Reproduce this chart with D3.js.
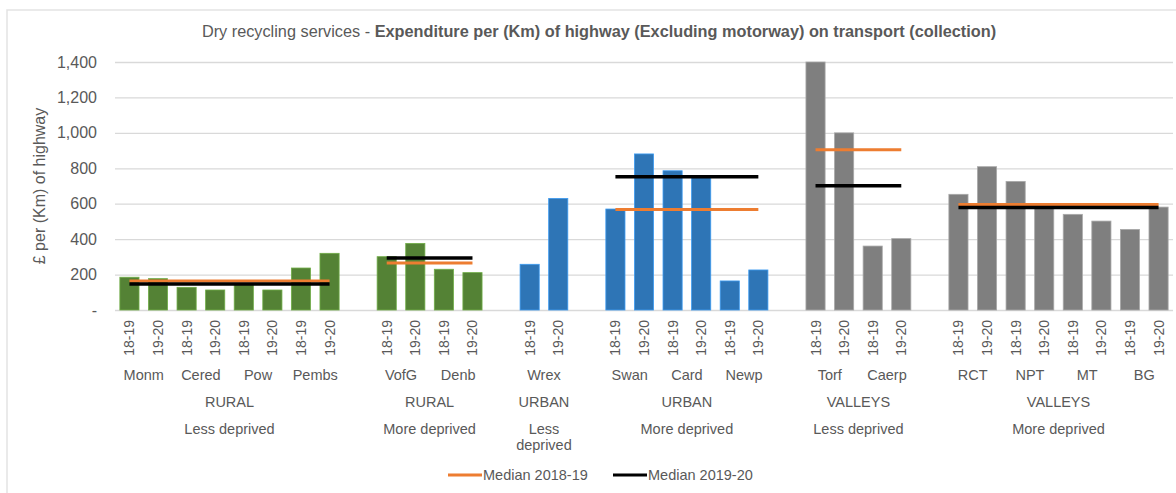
<!DOCTYPE html>
<html>
<head>
<meta charset="utf-8">
<script src="https://cdn.jsdelivr.net/npm/d3@7"></script>
<style>
    body { margin: 0; background: #fff; }
    svg { display: block; font-family: "Liberation Sans", Arial, sans-serif; }
</style>
</head>
<body>
<script>
'use strict';

const years = ['18-19', '19-20']
const authorities = ['Monm', 'Cered', 'Pow', 'Pembs', 'VofG', 'Denb', 'Wrex', 'Swan', 'Card', 'Newp', 'Torf', 'Caerp', 'RCT', 'NPT', 'MT', 'BG']
const values1819 = [185, 128, 143, 237, 301, 230, 258, 570, 786, 164, 1450, 361, 653, 726, 540, 455]
const values1920 = [177, 113, 113, 320, 376, 211, 630, 881, 752, 226, 1000, 403, 809, 580, 502, 581]

const groupRegions = ['RURAL', 'RURAL', 'URBAN', 'URBAN', 'VALLEYS', 'VALLEYS']
const groupDeprivation = ['Less deprived', 'More deprived', 'Less deprived', 'More deprived', 'Less deprived', 'More deprived']
const groupSizes = [4, 2, 1, 3, 2, 4]
const median1819 = [164, 265, null, 568, 905, 596]
const median1920 = [147, 294, null, 752, 701, 579]

const yTicks = [0, 200, 400, 600, 800, 1000, 1200, 1400]

const regionColour = {RURAL: '#548235', URBAN: '#2e75b6', VALLEYS: '#7f7f7f'}
const textColour = '#595959'

class BarChart {
    constructor (width=1176, height=493) {
        this.width = width
        this.height = height
        this.left = 115
        this.right = 1173
        this.top = 62
        this.bottom = 310

        this.svg = d3.select('body').append('svg')
            .attr('width', width)
            .attr('height', height)

        this.buildRows()
        this.buildScales()
        this.drawFrame()
        this.drawGrid()
        this.drawBars()
        this.drawMedians()
        this.drawLabels()
        this.drawLegend()
    }

    buildRows() {
        // one slot per bar, and an empty slot between groups
        this.slots = []
        this.bars = []
        this.groups = []
        let k = 0
        groupSizes.forEach((size, g) => {
            if (g > 0) this.slots.push('gap' + g)
            let members = []
            for (let i = 0; i < size; i++, k++) {
                let name = authorities[k]
                members.push(name)
                years.forEach((yr, j) => {
                    let key = name + '|' + yr
                    this.slots.push(key)
                    this.bars.push({key: key, name: name, year: yr, group: g,
                        value: j === 0 ? values1819[k] : values1920[k]})
                })
            }
            this.groups.push({index: g, members: members})
        })
    }

    buildScales() {
        this.x = d3.scaleBand()
            .domain(this.slots)
            .range([this.left, this.right])
            .paddingInner(0.33)
            .paddingOuter(0.17)
        this.y = d3.scaleLinear()
            .domain([0, 1400])
            .range([this.bottom, this.top])
            .clamp(true)
    }

    centre(key) {
        return this.x(key) + this.x.bandwidth() / 2
    }

    drawFrame() {
        this.svg.append('rect')
            .attr('x', 7).attr('y', 10)
            .attr('width', this.width).attr('height', this.height)
            .attr('fill', 'none')
            .attr('stroke', '#e3e3e3')
            .attr('stroke-width', 1.5)

        let title = this.svg.append('text')
            .attr('x', 599).attr('y', 37)
            .attr('text-anchor', 'middle')
            .attr('font-size', 16.3)
            .attr('fill', textColour)
        title.append('tspan').text('Dry recycling services - ')
        title.append('tspan').attr('font-weight', 'bold')
            .text('Expenditure per (Km) of highway (Excluding motorway) on transport (collection)')

        this.svg.append('text')
            .attr('transform', `translate(39, ${(this.top + this.bottom) / 2}) rotate(-90)`)
            .attr('text-anchor', 'middle')
            .attr('dominant-baseline', 'central')
            .attr('font-size', 16)
            .attr('fill', textColour)
            .text('£ per (Km) of highway')
    }

    drawGrid() {
        let eixoY = d3.axisLeft(this.y)
            .tickValues(yTicks)
            .tickSize(-(this.right - this.left))
            .tickPadding(18)
            .tickFormat(d => d === 0 ? '-' : d3.format(',')(d))

        let g = this.svg.append('g')
            .attr('transform', `translate(${this.left}, 0)`)
            .call(eixoY)
        g.select('.domain').remove()
        g.selectAll('line').attr('stroke', '#d9d9d9').attr('stroke-width', 1.3)
        g.selectAll('text')
            .attr('font-family', '"Liberation Sans", Arial, sans-serif')
            .attr('font-size', 16)
            .attr('fill', textColour)
    }

    drawBars() {
        this.svg.append('g').selectAll('rect').data(this.bars).enter().append('rect')
            .attr('x', d => this.x(d.key))
            .attr('y', d => this.y(d.value))
            .attr('width', this.x.bandwidth())
            .attr('height', d => this.y(0) - this.y(d.value))
            .attr('fill', d => regionColour[groupRegions[d.group]])
            .attr('stroke', d => d3.color(regionColour[groupRegions[d.group]]).brighter(0.8))
            .attr('stroke-width', 0.8)
    }

    drawMedians() {
        let lines = [
            {values: median1819, colour: '#ed7d31', width: 3},
            {values: median1920, colour: '#000000', width: 3.5}
        ]
        for (let line of lines) {
            let segs = this.groups.filter(gr => line.values[gr.index] !== null)
            this.svg.append('g').selectAll('line').data(segs).enter().append('line')
                .attr('x1', gr => this.centre(gr.members[0] + '|' + years[0]))
                .attr('x2', gr => this.centre(gr.members[gr.members.length - 1] + '|' + years[1]))
                .attr('y1', gr => this.y(line.values[gr.index]))
                .attr('y2', gr => this.y(line.values[gr.index]))
                .attr('stroke', line.colour)
                .attr('stroke-width', line.width)
        }
    }

    drawLabels() {
        let g = this.svg.append('g').attr('fill', textColour)

        g.selectAll('.yr').data(this.bars).enter().append('text')
            .attr('transform', d => `translate(${this.centre(d.key)}, 320) rotate(-90)`)
            .attr('text-anchor', 'end')
            .attr('dominant-baseline', 'central')
            .attr('font-size', 14)
            .text(d => d.year)

        g.selectAll('.name').data(authorities).enter().append('text')
            .attr('x', n => (this.centre(n + '|' + years[0]) + this.centre(n + '|' + years[1])) / 2)
            .attr('y', 380)
            .attr('text-anchor', 'middle')
            .attr('font-size', 14.5)
            .text(n => n)

        let mid = gr => (this.centre(gr.members[0] + '|' + years[0]) +
            this.centre(gr.members[gr.members.length - 1] + '|' + years[1])) / 2

        g.selectAll('.region').data(this.groups).enter().append('text')
            .attr('x', mid)
            .attr('y', 407)
            .attr('text-anchor', 'middle')
            .attr('font-size', 14.5)
            .text(gr => groupRegions[gr.index])

        g.selectAll('.dep').data(this.groups).enter().append('text')
            .attr('text-anchor', 'middle')
            .attr('font-size', 14.5)
            .each(function (gr) {
                // single authority groups are too narrow, so the label wraps
                let words = gr.members.length === 1 ? groupDeprivation[gr.index].split(' ') : [groupDeprivation[gr.index]]
                words.forEach((w, i) => {
                    d3.select(this).append('tspan')
                        .attr('x', mid(gr))
                        .attr('y', 434 + i * 16)
                        .text(w)
                })
            })
    }

    drawLegend() {
        let items = [
            {label: 'Median 2018-19', colour: '#ed7d31', x: 448},
            {label: 'Median 2019-20', colour: '#000000', x: 613}
        ]
        let g = this.svg.append('g')
        for (let it of items) {
            g.append('line')
                .attr('x1', it.x).attr('x2', it.x + 34)
                .attr('y1', 475).attr('y2', 475)
                .attr('stroke', it.colour)
                .attr('stroke-width', 3)
            g.append('text')
                .attr('x', it.x + 35).attr('y', 480)
                .attr('font-size', 14.5)
                .attr('fill', textColour)
                .text(it.label)
        }
    }
}

let chart = new BarChart()
</script>
</body>
</html>
